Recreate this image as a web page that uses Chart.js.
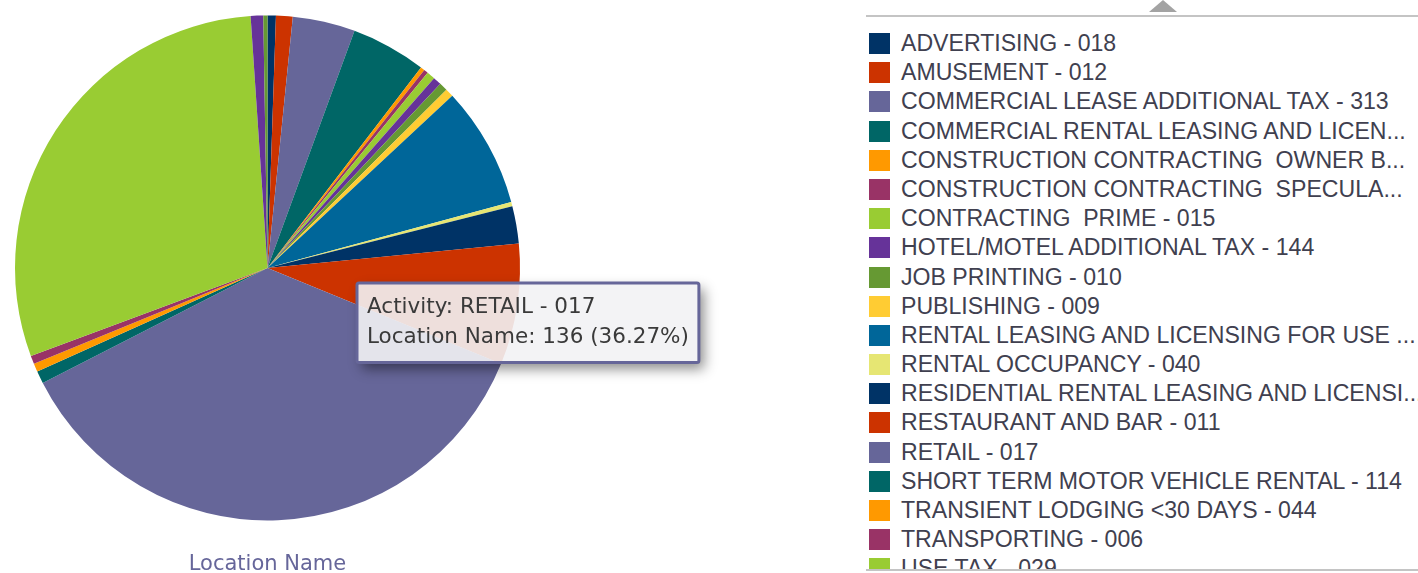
<!DOCTYPE html>
<html>
<head>
<meta charset="utf-8">
<title>Location Name by Activity</title>
<script src="https://cdn.jsdelivr.net/npm/chart.js@4.4.0/dist/chart.umd.min.js"></script>
<style>
    html, body { margin: 0; padding: 0; background: #fff; }
    body { width: 1418px; height: 573px; position: relative; overflow: hidden; }
    #pie { position: absolute; left: 0; top: 0; }
    #legendBox { position: absolute; left: 866px; top: 0; width: 552px; height: 573px; }
    #legendBox .arrow {
        position: absolute; left: 283px; top: 0; width: 0; height: 0;
        border-left: 14px solid transparent; border-right: 14px solid transparent;
        border-bottom: 12px solid #a3a3a3;
    }
    #legendBox .rule { position: absolute; left: 0; right: 0; height: 2px; background: #c4c4c4; }
    #legendList { position: absolute; left: 0; right: 0; top: 18px; height: 551px; overflow: hidden; padding-top: 11px; box-sizing: border-box; }
    .item {
        height: 29.2px; line-height: 29.2px; position: relative; white-space: pre;
        font-family: 'Liberation Sans', Arial, sans-serif; font-size: 23.1px; color: #40404f;
    }
    .item .sw { position: absolute; left: 3px; top: 4px; width: 21px; height: 21px; }
    .item .tx { position: absolute; left: 35px; top: 0; }
</style>
</head>
<body>

<canvas id="pie" width="860" height="573"></canvas>

<div id="legendBox">
    <div class="arrow"></div>
    <div class="rule" style="top:15px"></div>
    <div id="legendList"></div>
    <div class="rule" style="top:569px"></div>
</div>

<script>
/* =================================================================
    Data
================================================================= */

var activities = [
    "ADVERTISING - 018",
    "AMUSEMENT - 012",
    "COMMERCIAL LEASE ADDITIONAL TAX - 313",
    "COMMERCIAL RENTAL LEASING AND LICEN...",
    "CONSTRUCTION CONTRACTING  OWNER B...",
    "CONSTRUCTION CONTRACTING  SPECULA...",
    "CONTRACTING  PRIME - 015",
    "HOTEL/MOTEL ADDITIONAL TAX - 144",
    "JOB PRINTING - 010",
    "PUBLISHING - 009",
    "RENTAL LEASING AND LICENSING FOR USE ...",
    "RENTAL OCCUPANCY - 040",
    "RESIDENTIAL RENTAL LEASING AND LICENSI...",
    "RESTAURANT AND BAR - 011",
    "RETAIL - 017",
    "SHORT TERM MOTOR VEHICLE RENTAL - 114",
    "TRANSIENT LODGING <30 DAYS - 044",
    "TRANSPORTING - 006",
    "USE TAX - 029",
    "UTILITIES - 004",
    "WASTE COLLECTION - 032"
];

var locationCounts = [2, 4, 15, 18, 1, 1, 2, 2, 2, 2, 29, 1, 9, 29, 136, 3, 2, 2, 111, 3, 1];

var palette = [
    "#003366", "#cc3300", "#666699", "#006666", "#ff9900", "#993366",
    "#99cc33", "#663399", "#669933", "#ffcc33", "#006699", "#e6e673"
];

var sliceColors = activities.map(function (a, i) { return palette[i % palette.length]; });

var total = locationCounts.reduce(function (s, v) { return s + v; }, 0);

/* =================================================================
    Legend (scrolling list on the right)
================================================================= */

var list = document.getElementById("legendList");
activities.forEach(function (name, i) {
    var row = document.createElement("div");
    row.className = "item";
    var sw = document.createElement("span");
    sw.className = "sw";
    sw.style.background = sliceColors[i];
    var tx = document.createElement("span");
    tx.className = "tx";
    tx.textContent = name;
    row.appendChild(sw);
    row.appendChild(tx);
    list.appendChild(row);
});

/* =================================================================
    Pie chart
================================================================= */

Chart.Tooltip.positioners.fixedBox = function () {
    return { x: 359, y: 283 };
};

var tooltipShadow = {
    id: "tooltipShadow",
    beforeTooltipDraw: function (chart, args) {
        var t = args.tooltip;
        if (!t || t.opacity === 0) return;
        var c = chart.ctx;
        c.save();
        c.beginPath();
        c.rect(0, 0, chart.width, chart.height);
        c.rect(t.x, t.y, t.width, t.height);
        c.clip("evenodd");
        c.shadowColor = "rgba(0,0,0,0.45)";
        c.shadowBlur = 12;
        c.shadowOffsetX = 5;
        c.shadowOffsetY = 6;
        c.fillStyle = "#888";
        c.fillRect(t.x, t.y, t.width, t.height);
        c.restore();
    }
};

var ctx = document.getElementById("pie");

var myChart = new Chart(ctx, {
    type: 'pie',
    data: {
        labels: activities,
        datasets: [{
            label: "Location Name",
            data: locationCounts,
            backgroundColor: sliceColors,
            borderWidth: 0
        }]
    },
    options: {
        responsive: false,
        animation: false,
        events: [],
        layout: { padding: { top: 15, left: 15, right: 340, bottom: 0 } },
        plugins: {
            legend: { display: false },
            title: {
                display: true,
                position: 'bottom',
                text: 'Location Name',
                color: '#66669a',
                font: { family: 'DejaVu Sans', size: 21, weight: 'normal' },
                padding: { top: 31, bottom: -4 }
            },
            tooltip: {
                enabled: true,
                animation: false,
                position: 'fixedBox',
                xAlign: 'left',
                yAlign: 'top',
                caretSize: 0,
                caretPadding: 0,
                cornerRadius: 2,
                displayColors: false,
                backgroundColor: 'rgba(242,242,244,0.9)',
                borderColor: '#666699',
                borderWidth: 3,
                bodyColor: '#3a3a3a',
                bodyFont: { family: 'DejaVu Sans', size: 21.5 },
                bodySpacing: 4,
                padding: { left: 10, right: 10, top: 12, bottom: 12 },
                callbacks: {
                    title: function () { return []; },
                    label: function (item) {
                        var v = item.raw;
                        var pct = (v / total * 100).toFixed(2);
                        return ["Activity: " + item.label, "Location Name: " + v + " (" + pct + "%)"];
                    }
                }
            }
        }
    },
    plugins: [tooltipShadow]
});

var retailIdx = activities.indexOf("RETAIL - 017");
myChart.tooltip.setActiveElements([{ datasetIndex: 0, index: retailIdx }], { x: 400, y: 400 });
myChart.update();
</script>
</body>
</html>
